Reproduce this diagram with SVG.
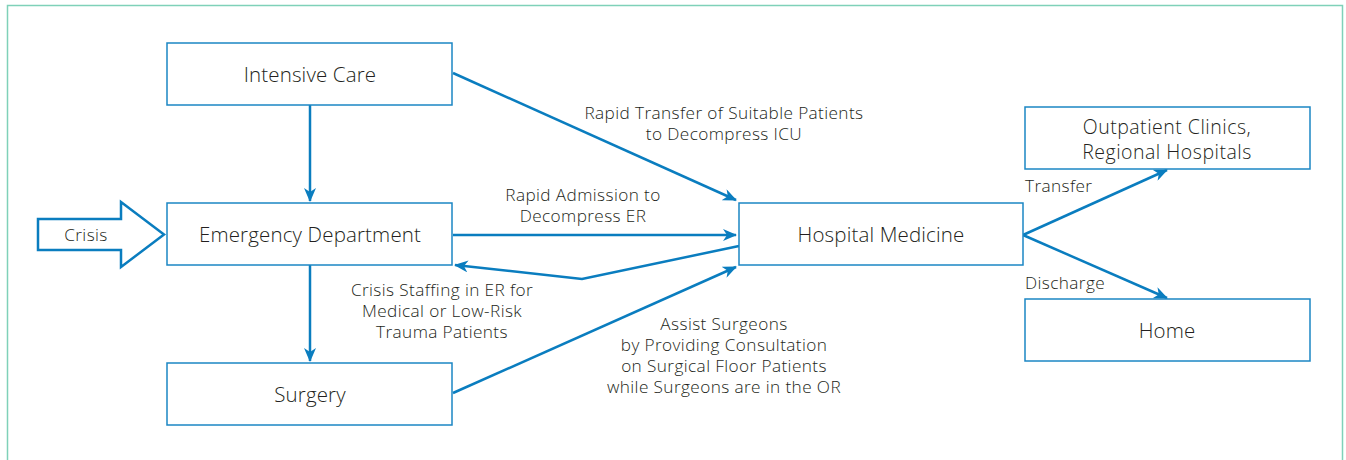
<svg xmlns="http://www.w3.org/2000/svg" width="1346" height="460" viewBox="0 0 1346 460">
<style>
.box{fill:#fff;stroke:#1b86c4;stroke-width:1.5}
.t{font-family:"Open Sans","Noto Sans",sans-serif;font-size:20.5px;font-weight:300;letter-spacing:0.15px;fill:#231f20;text-anchor:middle}
.t2{font-size:19.5px;letter-spacing:0.5px}
.l{font-family:"Open Sans","Noto Sans",sans-serif;font-size:17.2px;font-weight:300;letter-spacing:0.4px;fill:#231f20;text-anchor:middle}
.s{text-anchor:start}
.c{fill:none;stroke:#0a7dbf;stroke-width:2.5}
</style>
<defs>
<marker id="ah" viewBox="0 0 14 12" refX="13" refY="6" markerWidth="14" markerHeight="12" markerUnits="userSpaceOnUse" orient="auto">
<path d="M0,0 L14,6 L0,12 L4,6 z" fill="#0a7dbf"/>
</marker>
</defs>
<rect x="7.5" y="5.5" width="1335" height="470" fill="none" stroke="#7fd1b9" stroke-width="1.5"/>
<g id="connectors">
<path class="c" d="M310,105 L310,201" marker-end="url(#ah)"/>
<path class="c" d="M310,265 L310,361" marker-end="url(#ah)"/>
<path class="c" d="M453,73 L736,200" marker-end="url(#ah)"/>
<path class="c" d="M453,235 L736,235" marker-end="url(#ah)"/>
<path class="c" d="M739,246 L582,279 L455,265" marker-end="url(#ah)"/>
<path class="c" d="M453,393 L736,267" marker-end="url(#ah)"/>
<path class="c" d="M1023,235 L1167,170" marker-end="url(#ah)"/>
<path class="c" d="M1023,235 L1167,298" marker-end="url(#ah)"/>
</g>
<g id="crisis">
<path d="M38,219 L121,219 L121,202 L164,234.5 L121,267 L121,250 L38,250 Z" fill="#fff" stroke="#0a7dbf" stroke-width="2.5"/>
<text class="l" x="86" y="241">Crisis</text>
</g>
<g id="intensive-care">
<rect class="box" x="167" y="43" width="285" height="62"/>
<text class="t" x="310" y="82">Intensive Care</text>
</g>
<g id="emergency-department">
<rect class="box" x="167" y="203" width="285" height="62"/>
<text class="t" x="310" y="242">Emergency Department</text>
</g>
<g id="surgery">
<rect class="box" x="167" y="363" width="285" height="62"/>
<text class="t" x="310" y="402">Surgery</text>
</g>
<g id="hospital-medicine">
<rect class="box" x="739" y="203" width="284" height="62"/>
<text class="t" x="881" y="242">Hospital Medicine</text>
</g>
<g id="outpatient">
<rect class="box" x="1025" y="107" width="285" height="62"/>
<text class="t t2" x="1167" y="134">Outpatient Clinics,</text>
<text class="t t2" x="1167" y="158.5">Regional Hospitals</text>
</g>
<g id="home">
<rect class="box" x="1025" y="299" width="285" height="62"/>
<text class="t" x="1167" y="338">Home</text>
</g>
<g id="labels">
<text class="l" x="724" y="119">Rapid Transfer of Suitable Patients</text>
<text class="l" x="724" y="140">to Decompress ICU</text>
<text class="l" x="583" y="201">Rapid Admission to</text>
<text class="l" x="583" y="222">Decompress ER</text>
<text class="l" x="442" y="296">Crisis Staffing in ER for</text>
<text class="l" x="442" y="317">Medical or Low-Risk</text>
<text class="l" x="442" y="338">Trauma Patients</text>
<text class="l" x="724" y="330">Assist Surgeons</text>
<text class="l" x="724" y="351">by Providing Consultation</text>
<text class="l" x="724" y="372">on Surgical Floor Patients</text>
<text class="l" x="724" y="393">while Surgeons are in the OR</text>
<text class="l s" x="1025" y="192">Transfer</text>
<text class="l s" x="1025" y="289">Discharge</text>
</g>
</svg>
